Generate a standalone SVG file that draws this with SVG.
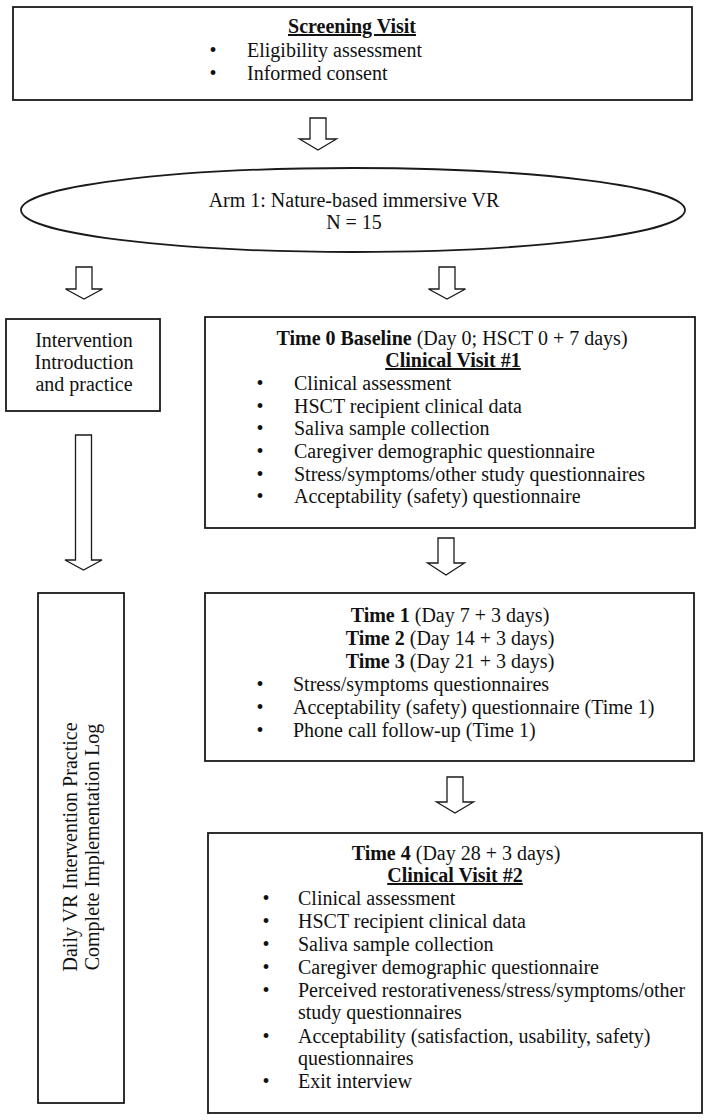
<svg xmlns="http://www.w3.org/2000/svg" width="708" height="1120" viewBox="0 0 708 1120">
  <style>
    .box { fill: #ffffff; stroke: #1a1a1a; stroke-width: 1.8; }
    .arr { fill: #ffffff; stroke: #1a1a1a; stroke-width: 1.3; stroke-linejoin: miter; }
    text { font-family: "Liberation Serif", "Times New Roman", serif; font-size: 20px; fill: #111111; }
    .c { text-anchor: middle; }
    .b { font-weight: bold; }
    .u { font-weight: bold; text-decoration: underline; }
  </style>
  <rect x="0" y="0" width="708" height="1120" fill="#ffffff"/>

  <g id="screening">
    <rect class="box" x="13" y="7" width="679" height="93"/>
    <text class="c u" x="352" y="33">Screening Visit</text>
    <text class="c" x="213" y="57">•</text>
    <text x="247" y="57">Eligibility assessment</text>
    <text class="c" x="213" y="80">•</text>
    <text x="247" y="80">Informed consent</text>
  </g>

  <g id="arm1">
    <ellipse class="box" cx="353" cy="210" rx="332" ry="42"/>
    <text class="c" x="354" y="207">Arm 1: Nature-based immersive VR</text>
    <text class="c" x="354" y="229">N = 15</text>
  </g>

  <g id="intro">
    <rect class="box" x="6" y="319" width="154" height="92"/>
    <text class="c" x="84" y="347">Intervention</text>
    <text class="c" x="84" y="369">Introduction</text>
    <text class="c" x="84" y="391">and practice</text>
  </g>

  <g id="daily">
    <rect class="box" x="38" y="593" width="86" height="510"/>
    <text class="c" transform="translate(77,847) rotate(-90)">Daily VR Intervention Practice</text>
    <text class="c" transform="translate(99,847) rotate(-90)">Complete Implementation Log</text>
  </g>

  <g id="time0">
    <rect class="box" x="205" y="317" width="490" height="211"/>
    <text class="c" x="452" y="345"><tspan class="b">Time 0 Baseline</tspan> (Day 0; HSCT 0 + 7 days)</text>
    <text class="c u" x="453" y="367">Clinical Visit #1</text>
    <text class="c" x="260" y="390">•</text><text x="294" y="390">Clinical assessment</text>
    <text class="c" x="260" y="413">•</text><text x="294" y="413">HSCT recipient clinical data</text>
    <text class="c" x="260" y="435">•</text><text x="294" y="435">Saliva sample collection</text>
    <text class="c" x="260" y="458">•</text><text x="294" y="458">Caregiver demographic questionnaire</text>
    <text class="c" x="260" y="481">•</text><text x="294" y="481">Stress/symptoms/other study questionnaires</text>
    <text class="c" x="260" y="503">•</text><text x="294" y="503">Acceptability (safety) questionnaire</text>
  </g>

  <g id="time1to3">
    <rect class="box" x="205" y="593" width="489" height="168"/>
    <text class="c" x="450" y="622"><tspan class="b">Time 1</tspan> (Day 7 + 3 days)</text>
    <text class="c" x="450" y="645"><tspan class="b">Time 2</tspan> (Day 14 + 3 days)</text>
    <text class="c" x="450" y="668"><tspan class="b">Time 3</tspan> (Day 21 + 3 days)</text>
    <text class="c" x="260" y="691">•</text><text x="293" y="691">Stress/symptoms questionnaires</text>
    <text class="c" x="260" y="714">•</text><text x="293" y="714">Acceptability (safety) questionnaire (Time 1)</text>
    <text class="c" x="260" y="737">•</text><text x="293" y="737">Phone call follow-up (Time 1)</text>
  </g>

  <g id="time4">
    <rect class="box" x="208" y="833" width="494" height="280"/>
    <text class="c" x="456" y="860"><tspan class="b">Time 4</tspan> (Day 28 + 3 days)</text>
    <text class="c u" x="455" y="882">Clinical Visit #2</text>
    <text class="c" x="266" y="905">•</text><text x="298" y="905">Clinical assessment</text>
    <text class="c" x="266" y="928">•</text><text x="298" y="928">HSCT recipient clinical data</text>
    <text class="c" x="266" y="951">•</text><text x="298" y="951">Saliva sample collection</text>
    <text class="c" x="266" y="974">•</text><text x="298" y="974">Caregiver demographic questionnaire</text>
    <text class="c" x="266" y="997">•</text><text x="298" y="997">Perceived restorativeness/stress/symptoms/other</text>
    <text x="298" y="1019">study questionnaires</text>
    <text class="c" x="266" y="1043">•</text><text x="298" y="1043">Acceptability (satisfaction, usability, safety)</text>
    <text x="298" y="1065">questionnaires</text>
    <text class="c" x="266" y="1088">•</text><text x="298" y="1088">Exit interview</text>
  </g>

  <g id="connectors">
    <path class="arr" d="M310,118 H326 V139 H336.5 L318,150 L299.5,139 H310 Z"/>
    <path class="arr" d="M76,267 H92 V289 H102.5 L84,299 L65.5,289 H76 Z"/>
    <path class="arr" d="M439,267 H455 V289 H465.5 L447,299 L428.5,289 H439 Z"/>
    <path class="arr" d="M75.5,435 H91.5 V560 H102 L83.5,570 L65,560 H75.5 Z"/>
    <path class="arr" d="M438,538 H454 V563 H464.5 L446,575 L427.5,563 H438 Z"/>
    <path class="arr" d="M447,777 H463 V802 H473.5 L455,813 L436.5,802 H447 Z"/>
  </g>
</svg>
